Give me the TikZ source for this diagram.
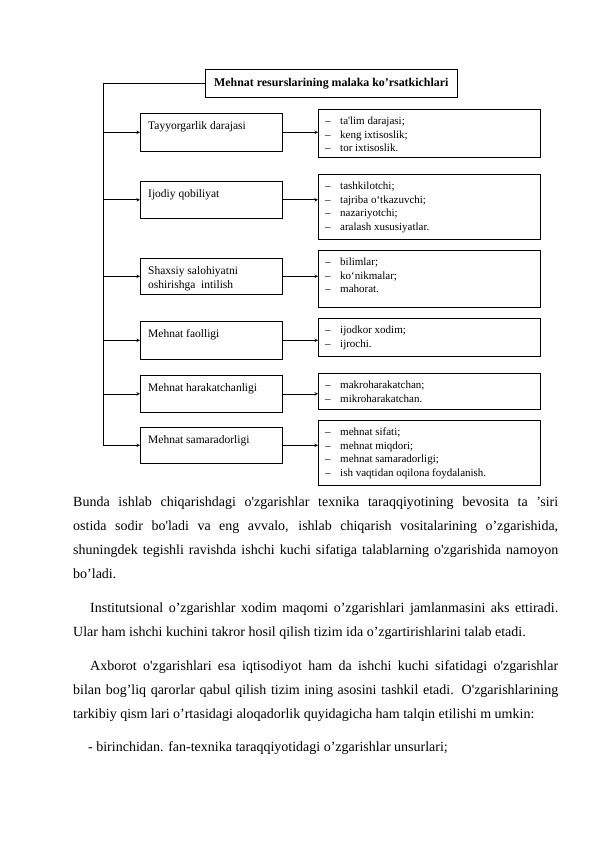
\documentclass[tikz,border=0pt]{standalone}
\usepackage{fontspec}
\setmainfont{Liberation Serif}[Ligatures=TeXOff]
\usetikzlibrary{positioning}

\newcommand{\itm}{\makebox[15pt][l]{–}}

\tikzset{
  box/.style={draw, line width=0.6pt, inner sep=0pt, anchor=north west},
  lbox/.style={box, minimum width=142pt},
  rbox/.style={box, minimum width=222pt},
  ltxt/.style={anchor=north west, inner sep=0pt, align=left, xshift=8pt, yshift=-8pt,
    font=\fontsize{11.5}{14}\selectfont},
  rtxt/.style={anchor=north west, inner sep=0pt, align=left, xshift=7pt, yshift=-8pt},
  link/.style={->, line width=0.6pt},
  para/.style={anchor=north west, inner sep=0pt, text width=485pt, align=justify,
    font=\fontsize{14}{24}\selectfont}
}

\begin{document}
\begin{tikzpicture}[x=1pt, y=-1pt, >=stealth, font=\fontsize{11}{13.5}\selectfont]
\useasboundingbox (0,0) rectangle (596,842);

% title
\node[box, minimum width=252pt, minimum height=28pt, font=\bfseries\fontsize{11.9}{14}\selectfont] (title) at (205,69) {Mehnat resurslarining malaka ko’rsatkichlari};
\path (title.west) -- ++(-102,0) coordinate (trunk);

% left column
\node[lbox, minimum height=38pt, label={[ltxt]north west:{Tayyorgarlik darajasi}}] (tayyor) at (140,113) {};
\node[lbox, minimum height=37pt, label={[ltxt]north west:{Ijodiy qobiliyat}}] (ijodiy) at (140,181) {};
\node[lbox, minimum height=36pt, label={[ltxt]north west:{Shaxsiy salohiyatni\\oshirishga\ \ intilish}}] (shaxsiy) at (140,258) {};
\node[lbox, minimum height=38pt, label={[ltxt]north west:{Mehnat faolligi}}] (faol) at (140,321) {};
\node[lbox, minimum height=37pt, label={[ltxt]north west:{Mehnat harakatchanligi}}] (harakat) at (140,375) {};
\node[lbox, minimum height=36pt, label={[ltxt]north west:{Mehnat samaradorligi}}] (samara) at (140,427) {};

% right column
\node[rbox, minimum height=48pt, label={[rtxt]north west:{\itm ta'lim darajasi;\\\itm keng ixtisoslik;\\\itm tor ixtisoslik.}}] (tayyor-r) at (318,109) {};
\node[rbox, minimum height=65pt, label={[rtxt]north west:{\itm tashkilotchi;\\\itm tajriba o‘tkazuvchi;\\\itm nazariyotchi;\\\itm aralash xususiyatlar.}}] (ijodiy-r) at (318,174) {};
\node[rbox, minimum height=57pt, label={[rtxt]north west:{\itm bilimlar;\\\itm ko‘nikmalar;\\\itm mahorat.}}] (shaxsiy-r) at (318,250) {};
\node[rbox, minimum height=38pt, label={[rtxt]north west:{\itm ijodkor xodim;\\\itm ijrochi.}}] (faol-r) at (318,318) {};
\node[rbox, minimum height=36pt, label={[rtxt]north west:{\itm makroharakatchan;\\\itm mikroharakatchan.}}] (harakat-r) at (318,373) {};
\node[rbox, minimum height=65pt, label={[rtxt]north west:{\itm mehnat sifati;\\\itm mehnat miqdori;\\\itm mehnat samaradorligi;\\\itm ish vaqtidan oqilona foydalanish.}}] (samara-r) at (318,420) {};

% connectors
\draw[link] (title.west) -- (trunk) |- (samara.west);
\foreach \n in {tayyor,ijodiy,shaxsiy,faol,harakat}
  \draw[link] (trunk |- \n.west) -- (\n.west);
\foreach \n in {tayyor,ijodiy,shaxsiy,faol,harakat,samara}
  \draw[link] (\n.east) -- (\n.east -| \n-r.west);

% text below
\node[para] (p1) at (73,497) {Bunda ishlab chiqarishdagi o'zgarishlar texnika taraqqiyotining bevosita ta ’siri\linebreak
ostida sodir bo'ladi va eng avvalo, ishlab chiqarish vositalarining o’zgarishida,\linebreak
shuningdek tegishli ravishda ishchi kuchi sifatiga talablarning o'zgarishida namoyon\linebreak
bo’ladi.};
\node[para] (p2) at (73,603) {\hspace*{17pt}Institutsional o’zgarishlar xodim maqomi o’zgarishlari jamlanmasini aks ettiradi.\linebreak
Ular ham ishchi kuchini takror hosil qilish tizim ida o’zgartirishlarini talab etadi.};
\node[para] (p3) at (73,660) {\hspace*{17pt}Axborot o'zgarishlari esa iqtisodiyot ham da ishchi kuchi sifatidagi o'zgarishlar\linebreak
bilan bog’liq qarorlar qabul qilish tizim ining asosini tashkil etadi. O'zgarishlarining\linebreak
tarkibiy qism lari o’rtasidagi aloqadorlik quyidagicha ham talqin etilishi m umkin:};
\node[para] (p4) at (73,741) {\hspace*{15pt}- birinchidan. fan-texnika taraqqiyotidagi o’zgarishlar unsurlari;};
\end{tikzpicture}
\end{document}
